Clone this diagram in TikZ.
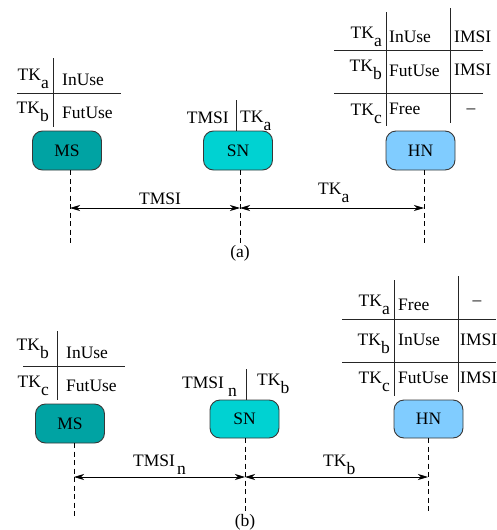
\documentclass[tikz,border=0pt]{standalone}
\usepackage{fontspec}
\setmainfont{Liberation Serif}
\usetikzlibrary{arrows.meta}

\definecolor{msfill}{HTML}{00A3A3}
\definecolor{snfill}{HTML}{00D2D2}
\definecolor{hnfill}{HTML}{80CCFF}
\definecolor{edge}{HTML}{383838}

% lowered index written after a key name, e.g. TK\idx{a}
\newcommand{\idx}[1]{\raisebox{-8pt}{#1}}

\tikzset{
  entity/.style={draw=edge, line width=0.9pt, rounded corners=10pt,
    minimum width=69pt, minimum height=39pt, inner sep=0pt},
  life/.style={line width=0.7pt, dash pattern=on 5pt off 3.5pt},
  msg/.style={line width=0.8pt,
    {Stealth[length=10pt,width=6pt,inset=3pt]}-{Stealth[length=10pt,width=6pt,inset=3pt]}},
  rule/.style={line width=0.8pt, draw=black!85},
  key/.style={anchor=base east, inner sep=0pt},
  val/.style={anchor=base west, inner sep=0pt},
  lbl/.style={inner sep=0pt},
}

\begin{document}
\begin{tikzpicture}[x=1pt, y=-1pt, font=\rmfamily\fontsize{17.5}{20}\selectfont]
\useasboundingbox (0,0) rectangle (496,530);

% ================= (a) =================
% entities
\node[entity, fill=msfill] (msa) at (67,150.5) {MS};
\node[entity, fill=snfill] (sna) at (238,150.5) {SN};
\node[entity, fill=hnfill] (hna) at (420.5,150.5) {HN};

% MS key table
\node[key] (msak1) at (49,80) {TK\idx{a}};
\node[val] (msav1) at (62,85) {InUse};
\node[key] (msak2) at (49,113) {TK\idx{b}};
\node[val] (msav2) at (62,118) {FutUse};
\draw[rule] (53,58) -- (53,127);
\draw[rule] (17,93) -- (121,93);

% SN identity pair
\node[key] (snat) at (229,123) {TMSI};
\node[val] (snak) at (240,122) {TK\idx{a}};
\coordinate (snabar) at (236,100);
\draw[rule] (snabar) -- (snabar |- sna.north);

% HN key table
\node[key] (hnak1) at (382,38) {TK\idx{a}};
\node[val] (hnav1) at (389,42) {InUse};
\node[val] (hnai1) at (454,42) {IMSI};
\node[key] (hnak2) at (382,71) {TK\idx{b}};
\node[val] (hnav2) at (389,76) {FutUse};
\node[val] (hnai2) at (454,75) {IMSI};
\node[key] (hnak3) at (382,115) {TK\idx{c}};
\node[val] (hnav3) at (389,114) {Free};
\node[lbl, anchor=base] (hnai3) at (471,113) {–};
\draw[rule] (386,12) -- (386,126);
\draw[rule] (450,8) -- (450,123);
\draw[rule] (334,50) -- (483,50);
\draw[rule] (334,93) -- (483,93);

% lifelines
\coordinate (msatop) at (70,170);   \coordinate (msabot) at (70,243);
\coordinate (snatop) at (240,170);  \coordinate (snabot) at (240,243);
\coordinate (hnatop) at (424,170);  \coordinate (hnabot) at (424,243);
\draw[life] (msatop) -- (msabot);
\draw[life] (snatop) -- (snabot);
\draw[life] (hnatop) -- (hnabot);

% messages
\coordinate (msam) at (70,208);
\coordinate (snam) at (240,208);
\coordinate (hnam) at (424,208);
\draw[msg] (msam) -- (snam);
\draw[msg] (snam) -- (hnam);
\node[lbl, anchor=base] (tmsia) at (160,204) {TMSI};
\node[val] (tka) at (318,194) {TK\idx{a}};

\node[lbl] (capa) at (240,253) {(a)};

% ================= (b) =================
% entities
\node[entity, fill=msfill] (msb) at (70,423.5) {MS};
\node[entity, fill=snfill, minimum height=38pt] (snb) at (244.5,419) {SN};
\node[entity, fill=hnfill, minimum height=38pt] (hnb) at (428.5,419) {HN};

% MS key table
\node[key] (msbk1) at (49,350) {TK\idx{b}};
\node[val] (msbv1) at (66,358) {InUse};
\node[key] (msbk2) at (49,387) {TK\idx{c}};
\node[val] (msbv2) at (66,391) {FutUse};
\draw[rule] (57,331) -- (57,400);
\draw[rule] (23,366) -- (125,366);

% SN identity pair
\node[key] (snbt) at (237,388) {TMSI\hspace{4pt}\idx{n}};
\node[val] (snbk) at (257,385) {TK\idx{b}};
\coordinate (snbbar) at (246,369);
\draw[rule] (snbbar) -- (snbbar |- snb.north);

% HN key table
\node[key] (hnbk1) at (390,306) {TK\idx{a}};
\node[val] (hnbv1) at (398,310) {Free};
\node[lbl, anchor=base] (hnbi1) at (477,305) {–};
\node[key] (hnbk2) at (390,345) {TK\idx{b}};
\node[val] (hnbv2) at (398,345) {InUse};
\node[val] (hnbi2) at (460,345) {IMSI};
\node[key] (hnbk3) at (390,383) {TK\idx{c}};
\node[val] (hnbv3) at (398,383) {FutUse};
\node[val] (hnbi3) at (460,383) {IMSI};
\draw[rule] (394,280) -- (394,396);
\draw[rule] (458,276) -- (458,392);
\draw[rule] (342,319) -- (496,319);
\draw[rule] (342,362) -- (496,362);

% lifelines
\coordinate (msbtop) at (74,443);   \coordinate (msbbot) at (74,517);
\coordinate (snbtop) at (245,438);  \coordinate (snbbot) at (245,512);
\coordinate (hnbtop) at (428,438);  \coordinate (hnbbot) at (428,511);
\draw[life] (msbtop) -- (msbbot);
\draw[life] (snbtop) -- (snbbot);
\draw[life] (hnbtop) -- (hnbbot);

% messages
\coordinate (msbm) at (74,477);
\coordinate (snbm) at (245,477);
\coordinate (hnbm) at (428,477);
\draw[msg] (msbm) -- (snbm);
\draw[msg] (snbm) -- (hnbm);
\node[val] (tmsib) at (133,466) {TMSI\hspace{2pt}\idx{n}};
\node[val] (tkb) at (323,466) {TK\idx{b}};

\node[lbl] (capb) at (245,522) {(b)};
\end{tikzpicture}
\end{document}
